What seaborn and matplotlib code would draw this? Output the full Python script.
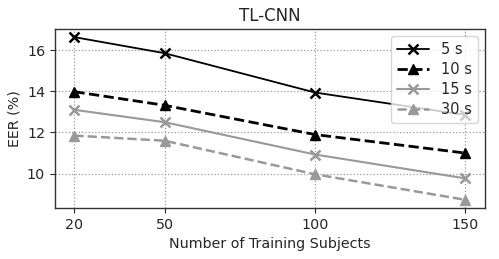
import seaborn as sns
import matplotlib
matplotlib.use('Agg')
import matplotlib.pyplot as plt

# values
subjects = [20, 50, 100, 150]
eer_5s = [16.63, 15.85, 13.94, 12.85]
eer_10s = [13.98, 13.32, 11.90, 11.00]
eer_15s = [13.10, 12.50, 10.93, 9.77]
eer_30s = [11.85, 11.60, 9.97, 8.73]
durations = ['5 s', '10 s', '15 s', '30 s']

sns.set_style('ticks')
plt.rcParams['font.family'] = ['DejaVu Sans']

fig, ax = plt.subplots(figsize=(4.99, 2.59), dpi=100)

# one call per series so each keeps its own marker / dash
series = [eer_5s, eer_10s, eer_15s, eer_30s]
colors = ['black', 'black', '#999999', '#999999']
styles = ['-', '--', '-', '--']
marks = ['x', '^', 'x', '^']
widths = [1.3, 2.0, 1.5, 1.8]
for vals, lab, c, ls, m, lw in zip(series, durations, colors, styles, marks, widths):
    sns.lineplot(x=subjects, y=vals, color=c, linestyle=ls, marker=m, linewidth=lw,
                 markersize=6.5, markeredgewidth=1.8 if m == 'x' else 1,
                 markeredgecolor=c, label=lab, ax=ax)

ax.set_xticks(subjects)
ax.set_yticks([10, 12, 14, 16])
ax.grid(True, linestyle=':', color='#999999', linewidth=0.9)
ax.set_xlabel('Number of Training Subjects', fontsize=10.3)
ax.set_ylabel('EER (%)', fontsize=10.3)
ax.set_title('TL-CNN', fontsize=12)
ax.tick_params(labelsize=10.3, direction='out', length=3.5, width=0.8)
for s in ax.spines.values():
    s.set_color('#333333')
    s.set_linewidth(1)

ax.legend(loc='upper right', fontsize=10.5, framealpha=0.8,
          borderpad=0.4, labelspacing=0.35, handlelength=2.2)

fig.subplots_adjust(left=0.11, right=0.972, top=0.888, bottom=0.197)
fig.savefig('out.png', dpi=100)
